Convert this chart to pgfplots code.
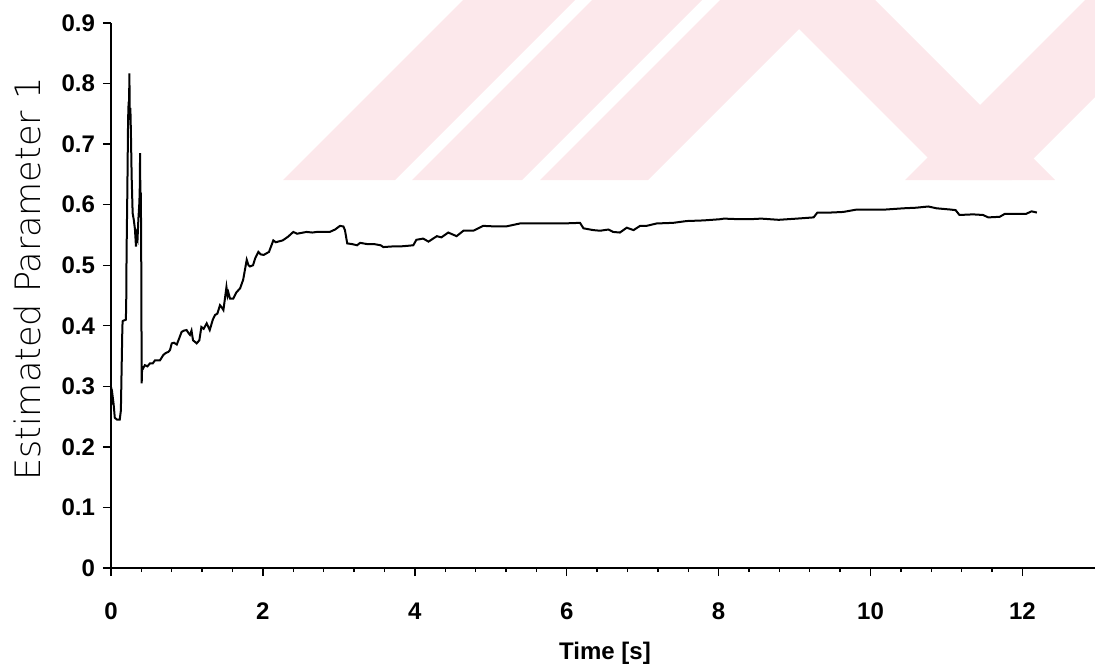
\documentclass[border=0pt]{standalone}
\usepackage{fontspec}
\setmainfont{Liberation Sans}
\newfontfamily\ylabfont{DejaVu Sans ExtraLight}
\usepackage{pgfplots}
\pgfplotsset{compat=1.18}
\definecolor{wmpink}{RGB}{252,232,235}
\begin{document}
\begin{tikzpicture}
% faint background watermark (decoration only, in image pixel units)
\begin{scope}[x=0.5pt, y=-0.5pt, shift={(-55.5pt,284pt)}]
  \clip (0,0) rectangle (1095,180);
  \fill[wmpink] (283,180) -- (395,180) -- (575,0) -- (463,0) -- cycle;
  \fill[wmpink] (412,180) -- (522,180) -- (702,0) -- (592,0) -- cycle;
  \fill[wmpink] (540,180) -- (648,180) -- (828,0) -- (720,0) -- cycle;
  \fill[wmpink] (770,0) -- (875,0) -- (1055,180) -- (950,180) -- cycle;
  \fill[wmpink] (905,180) -- (1012,180) -- (1192,0) -- (1085,0) -- cycle;
\end{scope}
\begin{axis}[
  at={(0pt,0pt)}, anchor=south west,
  scale only axis, width=492pt, height=272.5pt,
  xmin=0, xmax=12.955, ymin=0, ymax=0.9,
  axis lines*=left,
  axis line style={line width=0.8pt},
  xtick={0,2,...,12}, minor x tick num=4,
  ytick={0,0.1,0.2,0.3,0.4,0.5,0.6,0.7,0.8,0.9},
  tick align=outside,
  tick style={line width=0.7pt, black},
  major tick length=4pt, minor tick length=2pt,
  /pgf/number format/assume math mode=true,
  ticklabel style={font=\bfseries\fontsize{12}{14}\selectfont},
  xticklabel style={yshift=-10pt},
  yticklabel style={xshift=-0.5pt},
  every axis x label/.style={at={(axis description cs:0.502,0)}, anchor=center, yshift=-42.5pt},
  every axis y label/.style={at={(axis description cs:-0.085,0.53)}, anchor=center, rotate=90},
  xlabel={\bfseries\fontsize{12}{14}\selectfont Time [s]},
  ylabel={\ylabfont\fontsize{17.5}{20}\selectfont Estimated Parameter 1},
]
\addplot[black, line width=1pt] table {
0.005 0.27
0.02 0.285
0.035 0.27
0.05 0.248
0.08 0.245
0.115 0.245
0.13 0.26
0.15 0.40
0.155 0.408
0.195 0.41
0.2 0.43
0.205 0.52
0.215 0.62
0.225 0.74
0.232 0.77
0.238 0.76
0.242 0.817
0.248 0.74
0.255 0.76
0.262 0.72
0.272 0.646
0.285 0.586
0.3 0.575
0.315 0.56
0.329 0.531
0.34 0.55
0.35 0.545
0.36 0.575
0.372 0.6
0.378 0.62
0.383 0.685
0.387 0.6
0.392 0.62
0.397 0.55
0.404 0.305
0.41 0.332
0.425 0.33
0.445 0.335
0.48 0.333
0.513 0.338
0.55 0.338
0.58 0.343
0.645 0.343
0.69 0.352
0.72 0.355
0.756 0.357
0.777 0.36
0.8 0.371
0.83 0.372
0.866 0.369
0.9 0.38
0.93 0.39
0.96 0.392
0.995 0.393
1.02 0.388
1.04 0.385
1.06 0.392
1.08 0.376
1.1 0.374
1.128 0.371
1.163 0.376
1.19 0.398
1.22 0.395
1.26 0.404
1.3 0.393
1.34 0.41
1.37 0.418
1.4 0.42
1.435 0.434
1.46 0.43
1.48 0.426
1.5 0.445
1.52 0.464
1.535 0.45
1.545 0.455
1.567 0.445
1.61 0.445
1.65 0.455
1.70 0.462
1.74 0.476
1.787 0.509
1.81 0.5
1.83 0.498
1.87 0.5
1.9 0.512
1.94 0.522
1.97 0.518
2.01 0.517
2.08 0.522
2.137 0.541
2.17 0.538
2.2 0.539
2.26 0.541
2.33 0.547
2.4 0.555
2.45 0.552
2.49 0.553
2.575 0.555
2.65 0.554
2.71 0.555
2.8 0.555
2.88 0.555
2.95 0.559
3.015 0.565
3.06 0.564
3.08 0.558
3.11 0.536
3.17 0.535
3.24 0.533
3.28 0.537
3.37 0.535
3.46 0.535
3.55 0.533
3.585 0.53
3.7 0.531
3.8 0.531
3.9 0.532
3.98 0.533
4.02 0.542
4.11 0.544
4.18 0.539
4.29 0.548
4.35 0.546
4.44 0.554
4.55 0.548
4.64 0.557
4.77 0.557
4.90 0.565
5.07 0.564
5.2 0.564
5.385 0.569
5.52 0.569
5.74 0.569
5.955 0.569
6.175 0.57
6.22 0.561
6.35 0.558
6.44 0.557
6.55 0.559
6.61 0.555
6.70 0.554
6.79 0.562
6.88 0.558
6.965 0.565
7.05 0.565
7.185 0.569
7.4 0.57
7.58 0.573
7.8 0.574
8.02 0.576
8.07 0.577
8.28 0.576
8.41 0.576
8.56 0.577
8.79 0.575
9.03 0.577
9.25 0.579
9.3 0.587
9.47 0.587
9.64 0.588
9.82 0.592
10.0 0.592
10.2 0.592
10.43 0.594
10.6 0.595
10.76 0.597
10.87 0.594
11.05 0.592
11.12 0.591
11.17 0.583
11.35 0.584
11.48 0.583
11.55 0.579
11.7 0.58
11.77 0.585
11.96 0.585
12.05 0.585
12.12 0.589
12.19 0.587
};
\end{axis}
\pgfresetboundingbox
\useasboundingbox (-55.5pt,-51pt) rectangle (492pt,284pt);
\end{tikzpicture}
\end{document}
